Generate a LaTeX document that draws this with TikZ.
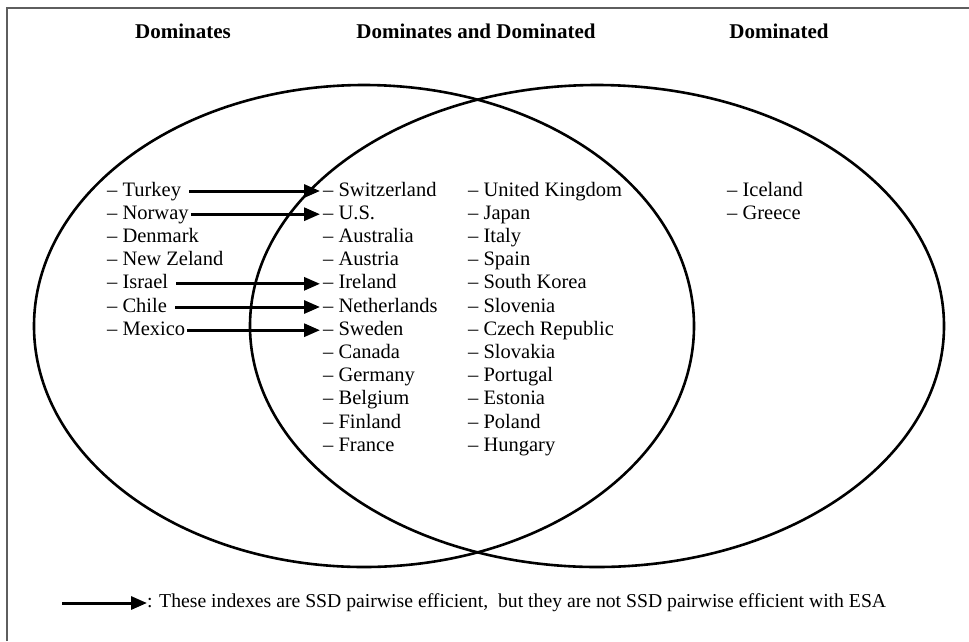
\documentclass[tikz,border=0pt]{standalone}
\usepackage{fontspec}
\setmainfont{Liberation Serif}
\usetikzlibrary{arrows.meta}
\definecolor{framegray}{HTML}{5E5E5E}
\begin{document}
\begin{tikzpicture}[x=1pt,y=-1pt,
  item/.style={anchor=west,inner sep=0pt,font=\fontsize{20.5}{24}\selectfont,text height=14pt,text depth=4pt},
  title/.style={inner sep=0pt,font=\fontsize{21}{25}\selectfont\bfseries},
  venn/.style={line width=2.6pt,black},
  arr/.style={line width=3pt,-{Triangle[length=16pt,width=13pt]}},
  legend/.style={anchor=west,inner sep=0pt,font=\fontsize{19.7}{23}\selectfont}]
\useasboundingbox (0,0) rectangle (969,641);
% frame (top and left edges)
\draw[framegray,line width=2pt] (7,641) -- (7,8) -- (969,8);
% titles
\node[title] (t1) at (183,31) {Dominates};
\node[title] (t2) at (476,31) {Dominates and Dominated};
\node[title] (t3) at (779,31) {Dominated};
% ellipses
\draw[venn] (364,326) ellipse [x radius=330, y radius=241];
\draw[venn] (597,326) ellipse [x radius=347, y radius=241];
% left column
\foreach \n/\t [count=\i from 0] in {turkey/Turkey,norway/Norway,denmark/Denmark,nz/New Zeland,israel/Israel,chile/Chile,mexico/Mexico}
  \node[item] (\n) at (107,191+23.2*\i) {– \t};
% middle column
\foreach \n/\t [count=\i from 0] in {swiss/Switzerland,us/U.S.,australia/Australia,austria/Austria,ireland/Ireland,netherlands/Netherlands,sweden/Sweden,canada/Canada,germany/Germany,belgium/Belgium,finland/Finland,france/France}
  \node[item] (\n) at (323,191+23.2*\i) {– \t};
% second middle column
\foreach \n/\t [count=\i from 0] in {uk/United Kingdom,japan/Japan,italy/Italy,spain/Spain,korea/South Korea,slovenia/Slovenia,czech/Czech Republic,slovakia/Slovakia,portugal/Portugal,estonia/Estonia,poland/Poland,hungary/Hungary}
  \node[item] (\n) at (468,191+23.2*\i) {– \t};
% right column
\node[item] (iceland) at (727,191) {– Iceland};
\node[item] (greece) at (727,214.2) {– Greece};
% arrows
\draw[arr,shorten <=8pt,shorten >=3pt] (turkey.east) -- (swiss.west);
\draw[arr,shorten <=2pt,shorten >=3pt] (norway.east) -- (us.west);
\draw[arr,shorten <=8pt,shorten >=3pt] (israel.east) -- (ireland.west);
\draw[arr,shorten <=8pt,shorten >=3pt] (chile.east) -- (netherlands.west);
\draw[arr,shorten <=2pt,shorten >=3pt] (mexico.east) -- (sweden.west);
% legend
\coordinate (lstart) at (62,603);
\node[legend] (leg) at (147,603) {: These indexes are SSD pairwise efficient,\ \ but they are not SSD pairwise efficient with ESA};
\draw[arr] (lstart) -- (leg.west);
\end{tikzpicture}
\end{document}
